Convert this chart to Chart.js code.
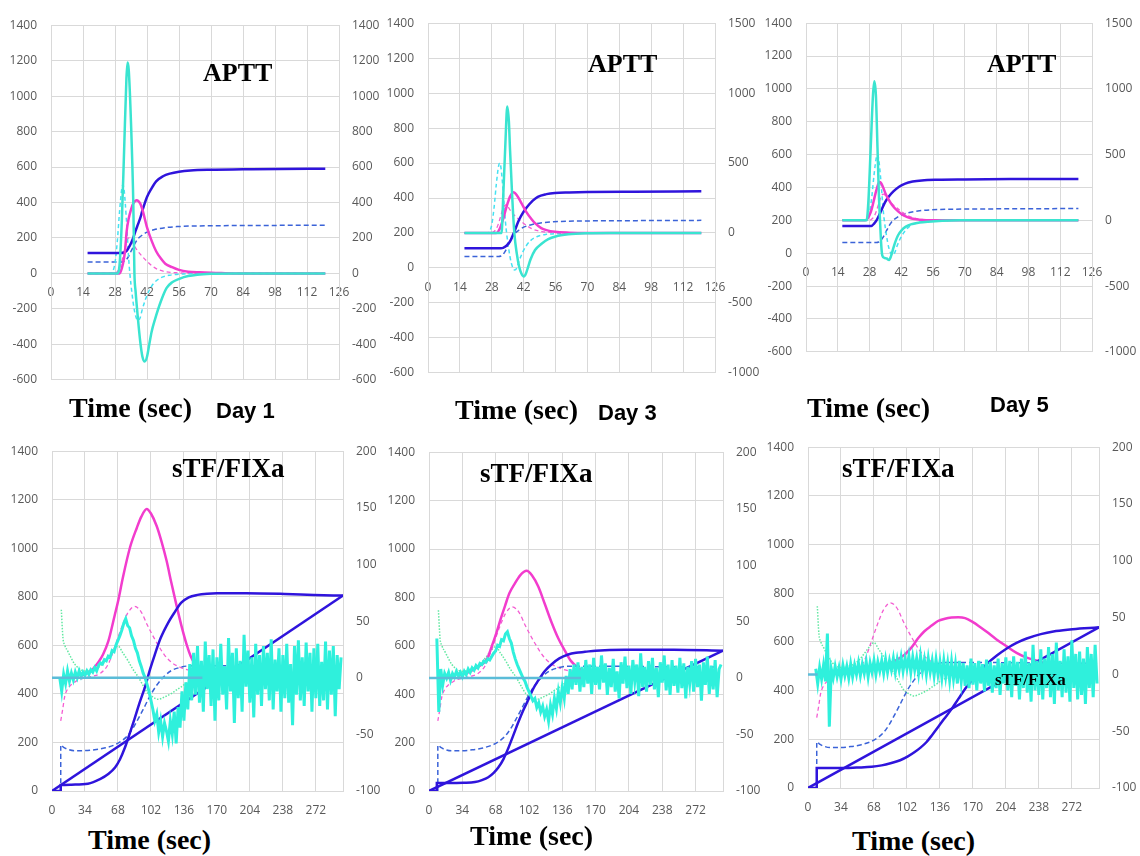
<!DOCTYPE html>
<html lang="en">
<head>
<meta charset="UTF-8">
<title>APTT and sTF/FIXa waveforms</title>
<script src="https://cdn.jsdelivr.net/npm/chart.js@4.4.0/dist/chart.umd.min.js"></script>
<style>
  body { margin: 0; background: #fff; width: 1140px; height: 856px; position: relative; overflow: hidden; }
  canvas { position: absolute; }
  .lbl { position: absolute; font-family: 'Liberation Serif', serif; font-weight: bold; color: #000; line-height: 1; white-space: nowrap; }
  .title { font-size: 26px; }
  .stf { font-size: 27px; }
  .time { font-size: 28px; }
  .day { font-family: 'Liberation Sans', sans-serif; font-size: 22px; }
</style>
</head>
<body>
<canvas id="c1" width="383" height="397" style="left:1px;top:4px"></canvas>
<canvas id="c2" width="382" height="392" style="left:378px;top:2px"></canvas>
<canvas id="c3" width="383" height="371" style="left:756px;top:2px"></canvas>
<canvas id="c4" width="386" height="391" style="left:2px;top:430px"></canvas>
<canvas id="c5" width="389" height="390" style="left:379px;top:431px"></canvas>
<canvas id="c6" width="381" height="392" style="left:758px;top:426px"></canvas>

<div class="lbl title" style="left:203px;top:60px">APTT</div>
<div class="lbl title" style="left:588px;top:51px">APTT</div>
<div class="lbl title" style="left:987px;top:51px">APTT</div>
<div class="lbl stf" style="left:172px;top:455px">sTF/FIXa</div>
<div class="lbl stf" style="left:480px;top:460px">sTF/FIXa</div>
<div class="lbl stf" style="left:842px;top:455px">sTF/FIXa</div>
<div class="lbl" style="left:995px;top:671px;font-size:17px">sTF/FIXa</div>
<div class="lbl time" style="left:69px;top:394px">Time (sec)</div>
<div class="lbl time" style="left:455px;top:396px">Time (sec)</div>
<div class="lbl time" style="left:807px;top:394px">Time (sec)</div>
<div class="lbl time" style="left:88px;top:826px">Time (sec)</div>
<div class="lbl time" style="left:470px;top:822px">Time (sec)</div>
<div class="lbl time" style="left:852px;top:827px">Time (sec)</div>
<div class="lbl day" style="left:216px;top:400px">Day 1</div>
<div class="lbl day" style="left:598px;top:402px">Day 3</div>
<div class="lbl day" style="left:990px;top:394px">Day 5</div>

<script>
// ---- APTT (top row), reference curves drawn dashed in every panel ----
var aRefCyanX = [16, 26, 27, 28, 29, 30, 31, 31.5, 32, 33, 34, 34.5, 35.5, 36.5, 38, 39, 40, 41.5, 43, 45, 48, 52, 58, 65, 120];
var aRefCyanY = [0, 0, 10, 60, 180, 350, 480, 500, 470, 300, 80, 0, -120, -210, -265, -250, -200, -140, -95, -55, -25, -10, -3, 0, 0];
var aRefMagX = [16, 28, 29, 30, 31, 32, 33, 34, 35, 36, 38, 40, 42, 44, 46, 50, 56, 64, 120];
var aRefMagY = [0, 0, 10, 30, 70, 125, 175, 200, 190, 165, 125, 95, 68, 45, 27, 10, 3, 0, 0];
var aRefBlueX = [16, 31, 32, 33, 34, 35, 36, 37, 38, 40, 42, 45, 50, 55, 65, 84, 120];
var aRefBlueY = [65, 65, 68, 78, 98, 125, 150, 175, 195, 217, 233, 246, 258, 264, 268, 270, 272];

// Day 1
var d1CyanX = [16, 29, 30, 31, 32, 33, 33.5, 34, 35, 36, 36.5, 37, 38, 39, 40, 41, 42, 43, 44, 45.5, 48, 50.6, 53, 56.4, 60, 64, 70, 80, 120];
var d1CyanY = [0, 0, 50, 300, 700, 1100, 1190, 1150, 850, 400, 0, -100, -250, -380, -470, -497, -470, -400, -330, -259, -160, -82, -50, -29, -15, -7, -2, 0, 0];
var d1MagX = [16, 30, 31, 32, 32.4, 33.1, 34, 35, 36, 37.5, 39, 40, 42, 44, 46, 48, 50, 53, 56, 60, 65, 72, 80, 120];
var d1MagY = [0, 0, 30, 90, 130, 237, 310, 360, 395, 413, 395, 360, 260, 185, 125, 85, 55, 35, 20, 10, 6, 3, 0, 0];
var d1BlueX = [16, 30, 32, 33, 34, 35, 36, 37, 38, 39, 40, 42, 44, 46, 49, 52, 56, 61, 70, 84, 100, 120];
var d1BlueY = [115, 115, 118, 125, 145, 170, 201, 240, 275, 310, 355, 431, 480, 519, 548, 563, 574, 581, 585, 587, 589, 590];

// Day 3
var d3CyanX = [16, 32.3, 33, 34, 34.8, 35.5, 36, 37, 37.9, 39, 40, 41, 42.1, 43, 44, 45, 47, 50, 52.8, 56, 61.6, 70, 80, 120];
var d3CyanY = [0, 0, 250, 650, 904, 800, 600, 250, 0, -150, -240, -290, -312, -290, -240, -190, -122, -75, -44, -25, -10, -2, 0, 0];
var d3MagX = [16, 30, 31, 32, 33, 34, 35, 36, 37.5, 39, 41, 43, 45.3, 47, 49.7, 52, 55.7, 62, 70, 120];
var d3MagY = [0, 0, 15, 50, 100, 160, 215, 260, 292, 270, 214, 155, 102, 70, 35, 20, 8, 2, 0, 0];
var d3BlueX = [16, 32, 33, 34, 35, 36.2, 37, 38, 39.6, 41, 43.3, 46, 48.2, 52, 55.7, 62, 70, 90, 120];
var d3BlueY = [113, 113, 115, 122, 135, 156, 180, 210, 264, 300, 345, 385, 407, 422, 429, 432, 434, 436, 438];

// Day 5
var d5CyanX = [16, 26.7, 27.5, 28.5, 29.5, 30.1, 30.8, 31.5, 32.1, 32.6, 33.2, 33.6, 34.5, 35.5, 36.6, 37.5, 38.5, 39.2, 40.5, 42.1, 44, 46.5, 50, 53.8, 60, 68, 120];
var d5CyanY = [0, 0, 150, 550, 950, 1058, 950, 550, 200, 0, -200, -266, -285, -290, -302, -270, -210, -171, -115, -76, -48, -29, -17, -10, -3, 0, 0];
var d5MagX = [16, 26, 27, 28, 29, 30, 31, 32.3, 33, 34, 35, 36.3, 38, 40.7, 43, 46.5, 50, 56, 120];
var d5MagY = [0, 0, 10, 40, 90, 160, 230, 291, 285, 250, 205, 161, 115, 66, 38, 14, 5, 0, 0];
var d5BlueX = [16, 28, 29, 30, 31, 32, 33, 34.8, 36.5, 38.5, 41, 43.7, 47, 51, 58, 70, 90, 120];
var d5BlueY = [165, 165, 167, 180, 198, 225, 255, 310, 345, 376, 405, 424, 436, 443, 447, 449, 451, 452];

// ---- sTF/FIXa (bottom row), reference curves ----
var sRefBlueX = [9, 9, 12, 16, 23, 30, 44, 55, 64.6, 72, 78.4, 84, 88.7, 94, 99, 104, 109.3, 116, 123, 131, 140.2, 160, 200, 250, 298];
var sRefBlueY = [0, 190, 180, 172, 166, 166, 170, 178, 190, 207, 230, 262, 296, 336, 376, 412, 443, 474, 496, 508, 515, 516, 515, 513, 512];
var sRefMagX = [9, 11, 13, 16, 20, 25, 30, 40, 50, 58, 65, 72, 78, 85, 92, 98, 104, 110, 116, 124, 133, 140, 147];
var sRefMagY = [-38, -28, -17, -10, -6, -3, -1, 1, 4, 12, 28, 45, 57, 63, 58, 47, 37, 28, 20, 13, 9, 7, 6];
var sRefGreenX = [9.6, 11.3, 13, 16.5, 20, 23.4, 28, 33.7, 40, 47.4, 53, 57.7, 63, 68, 73, 78.4, 83, 88.7, 94, 99, 104, 109.3, 116, 123, 128, 133.3, 138, 143.6];
var sRefGreenY = [60, 35, 29, 23, 17, 12, 8, 6, 7, 9, 13, 18, 24, 28, 22, 15, 8, 1, -7, -14, -17, -19, -17, -14, -11, -8, -5, -3];

var noiseX = [8, 10, 12, 14, 16, 18, 20, 22, 24, 26, 28, 30, 32, 34, 36, 38, 40, 42, 44, 46,
  48, 50, 52, 54, 56, 58, 60, 62, 64, 66, 68, 70, 72, 74, 76, 78, 80, 82, 84, 86,
  88, 90, 92, 94, 96, 98, 100, 102, 104, 106, 108, 110, 112, 114, 116, 118, 120, 122, 124, 126,
  128, 130, 132, 134, 136, 138, 140, 142, 144, 146, 148, 150, 152, 154, 156, 158, 160, 162, 164, 166,
  168, 170, 172, 174, 176, 178, 180, 182, 184, 186, 188, 190, 192, 194, 196, 198, 200, 202, 204, 206,
  208, 210, 212, 214, 216, 218, 220, 222, 224, 226, 228, 230, 232, 234, 236, 238, 240, 242, 244, 246,
  248, 250, 252, 254, 256, 258, 260, 262, 264, 266, 268, 270, 272, 274, 276, 278, 280, 282, 284, 286,
  288, 290, 292, 294, 296, 298];
var zeroY = [0, 0];

// Day 1
var s1Noise = [0, -12, 3, -5, 6, -3, 4, -2, 5, 0,
  6, 1, 5, 2, 6, 3, 7, 5, 9, 6,
  11, 13, 12, 16, 15, 19, 18, 24, 23, 29,
  33, 37, 42, 48, 52, 46, 44, 37, 33, 26,
  22, 15, 10, 4, 0, -6, -12, -20, -28, -38,
  -32, -48, -38, -52, -40, -47, -56, -38, -50, -30,
  -58, -26, -44, -12, -38, -4, -28, 12, -20, 22,
  -15, 28, -22, 15, -30, 32, -10, 20, -25, 25,
  -38, 18, -20, 30, -15, 10, -28, 35, -12, 22,
  -40, 26, -18, 15, -30, 38, -8, 24, -22, 18,
  -35, 30, -15, 20, -25, 28, -10, 22, -20, 34,
  -28, 16, -12, 26, -30, 20, -18, 30, -22, 12,
  -42, 28, -15, 33, -20, 18, -25, 31, -12, 22,
  -30, 26, -18, 30, -25, 14, -20, 32, -28, 24,
  -15, 28, -34, 20, -10, 18];
var s1ZeroX = [0, 155];
var s1BlueX = [0, 9, 9, 20, 37, 50, 58, 65, 70, 75, 80, 85, 90, 96, 101, 106, 112, 120, 127, 133, 141, 150, 160, 170, 200, 240, 270, 300];
var s1BlueY = [0, 0, 25, 26, 30, 50, 70, 97, 130, 177, 235, 296, 360, 430, 500, 562, 630, 695, 740, 775, 798, 808, 813, 815, 815, 812, 808, 805];
var s1DiagX = [0, 300];
var s1DiagY = [0, 805];
var s1MagX = [30, 40, 48, 52.6, 58, 64.6, 68, 73.2, 80.4, 87.3, 92, 97.6, 102, 107.9, 113, 118.2, 123, 128.6, 134, 138.9, 143, 147.4, 152];
var s1MagY = [2, 6, 14, 20.5, 32, 55, 67, 89, 115, 132, 142, 149, 145, 134, 120, 103, 84, 63, 44, 29, 19, 12, 8];

// Day 3
var s2Noise = [35, -30, 8, -6, 4, 0, 5, -2, 4, 1,
  6, 2, 5, 1, 6, 3, 8, 5, 9, 7,
  11, 9, 13, 12, 15, 14, 17, 16, 19, 22,
  24, 29, 28, 34, 33, 39, 41, 35, 31, 23,
  17, 12, 8, 4, 0, -3, -8, -12, -16, -20,
  -18, -26, -22, -30, -25, -34, -28, -38, -24, -32,
  -18, -27, -12, -22, -8, -18, 2, -14, 8, -10,
  12, -6, 14, -12, 10, -8, 16, -5, 12, -14,
  18, -6, 10, -10, 20, -4, 13, -15, 9, -8,
  17, -12, 6, -18, 14, -5, 19, -9, 11, -14,
  16, -3, 12, -16, 22, -8, 10, -12, 15, -6,
  18, -10, 9, -17, 14, -4, 20, -11, 12, -15,
  16, -7, 11, -13, 18, -9, 13, -18, 10, -5,
  15, -12, 17, -8, 12, -20, 14, -6, 19, -14,
  11, -10, 16, -17, 8, 12];
var s2ZeroX = [0, 155];
var s2BlueX = [0, 8, 8, 20, 35, 46.9, 54, 60.5, 66, 70.7, 76, 80.9, 86, 91.1, 96, 101.3, 106, 111.5, 118, 125.2, 133, 142.1, 150, 159.2, 170, 200, 250, 300];
var s2BlueY = [0, 0, 33, 33, 34, 37, 45, 57, 75, 97, 132, 177, 230, 284, 332, 377, 420, 457, 495, 524, 548, 564, 571, 575, 580, 584, 584, 580];
var s2DiagX = [0, 300];
var s2DiagY = [0, 580];
var s2MagX = [30, 40, 50, 58.9, 64, 69.1, 73, 77.6, 82, 87.8, 93, 99.7, 105, 111.5, 118, 125.2, 132, 138.8, 145, 152.3, 156];
var s2MagY = [2, 5, 10, 16.5, 28, 41, 52, 64, 75, 84, 91, 95, 91, 81, 66, 49, 35, 24, 15, 9, 7];

// Day 5
var s3Noise = [5, -8, 6, -4, 8, -6, 36, -46, 5, -3,
  7, -2, 6, -4, 8, -1, 7, -3, 9, -2,
  8, 0, 10, -1, 9, 1, 11, -2, 10, 2,
  12, 0, 11, 3, 12, 1, 13, 2, 12, 4,
  14, 2, 13, 4, 15, 3, 14, 5, 16, 2,
  15, 4, 14, 1, 16, 3, 13, 0, 14, 2,
  12, -1, 13, 0, 11, -3, 12, -2, 10, -5,
  11, -4, 9, -8, 12, -6, 10, -10, 8, -12,
  14, -9, 10, -14, 12, -8, 9, -15, 13, -10,
  11, -16, 8, -12, 14, -18, 10, -8, 15, -14,
  12, -20, 16, -10, 11, -22, 14, -12, 20, -16,
  10, -24, 26, -14, 12, -18, 22, -22, 14, -12,
  24, -20, 18, -26, 28, -14, 12, -20, 22, -16,
  16, -24, 30, -12, 18, -22, 20, -18, 14, -26,
  24, -12, 18, -20, 26, -8];
var s3ZeroX = [0, 10];
var s3BlueX = [0, 9, 9, 20, 38, 50, 65.7, 76, 86, 95, 103, 110, 116, 122, 128, 134, 140, 148, 155, 163.6, 174, 184.2, 195, 204.9, 215, 225.5, 240, 253, 270, 285, 300];
var s3BlueY = [0, 0, 82, 82, 82, 84, 87, 93, 103, 114, 130, 148, 166, 188, 218, 250, 282, 324, 366, 416, 466, 509, 545, 573, 596, 614, 632, 643, 651, 656, 660];
var s3DiagX = [0, 300];
var s3DiagY = [0, 660];
var s3MagX = [30, 45, 60, 70, 82.8, 92, 100, 107, 113.7, 120, 127.5, 134, 141.2, 148, 155, 162, 170, 177, 184.2, 194, 204.8, 215, 225.5, 234, 242.6, 254.6];
var s3MagY = [2, 3, 5, 6, 9, 13, 17.6, 24, 32, 38, 43, 47, 49, 50, 50.3, 49.5, 46, 42, 37.5, 31, 24.7, 19, 14.8, 12.5, 10.6, 8.5];

// ---- styling ----
var GRID = '#d9d9d9';
var BLUE = '#2f14dc';
var BLUE_DASH = '#3b63d8';
var MAGENTA = '#f23ccd';
var MAG_DASH = '#f45ed2';
var CYAN = '#3ae4d0';
var CYAN_DASH = '#44e2f2';
var NOISE = '#2ff0dc';
var ZERO = '#5bbcd8';
var GREEN = '#62e8a2';

Chart.defaults.font.family = "'Open Sans', sans-serif";
Chart.defaults.font.size = 12;
Chart.defaults.color = '#595959';

function pts(xs, ys) {
    return xs.map(function (x, i) { return { x: x, y: ys[i] }; });
}

function ds(xs, ys, color, width, axis, dash, smooth) {
    return {
        data: pts(xs, ys),
        borderColor: color,
        borderWidth: width,
        borderDash: dash || [],
        yAxisID: axis,
        pointRadius: 0,
        fill: false,
        tension: 0,
        cubicInterpolationMode: smooth ? 'monotone' : 'default'
    };
}

function yScale(pos, min, max, step, w, onArea) {
    return {
        type: 'linear',
        position: pos,
        min: min,
        max: max,
        ticks: { stepSize: step, padding: pos === 'left' ? 14 : 13, format: { useGrouping: false } },
        grid: { drawOnChartArea: onArea, drawTicks: false, color: GRID },
        border: { display: true, color: GRID },
        afterFit: function (s) { s.width = w; }
    };
}

function topX() {
    return {
        type: 'linear',
        position: { y: 0 },
        min: 0,
        max: 126,
        ticks: { stepSize: 14, padding: 12, format: { useGrouping: false } },
        grid: { drawTicks: false, color: GRID },
        border: { color: GRID }
    };
}

function bottomX() {
    return {
        type: 'linear',
        position: 'bottom',
        min: 0,
        max: 300,
        ticks: { stepSize: 34, padding: 12, includeBounds: false, format: { useGrouping: false } },
        grid: { drawTicks: false, color: GRID },
        border: { color: GRID },
        afterFit: function (s) { s.height = 30; }
    };
}

function makeChart(id, datasets, scales, pad) {
    new Chart(document.getElementById(id), {
        type: 'line',
        data: { datasets: datasets },
        options: {
            responsive: false,
            animation: false,
            events: [],
            layout: { padding: pad },
            plugins: { legend: { display: false }, tooltip: { enabled: false } },
            scales: scales
        }
    });
}

function apttSets(cx, cy, mx, my, bx, by) {
    return [
        ds(cx, cy, CYAN, 2.5, 'y1', null, true),
        ds(mx, my, MAGENTA, 2.5, 'y1', null, true),
        ds(bx, by, BLUE, 2.5, 'y', null, true),
        ds(aRefCyanX, aRefCyanY, CYAN_DASH, 1.5, 'y1', [4, 3], true),
        ds(aRefMagX, aRefMagY, MAG_DASH, 1.3, 'y1', [4, 3], true),
        ds(aRefBlueX, aRefBlueY, BLUE_DASH, 1.5, 'y', [5, 3], true)
    ];
}

function stfSets(nz, zx, bx, by, dx, dy, mx, my) {
    return [
        ds(zx, zeroY, ZERO, 2.5, 'y1'),
        ds(noiseX, nz, NOISE, 3, 'y1'),
        ds(bx, by, BLUE, 2.5, 'y', null, true),
        ds(dx, dy, BLUE, 2.5, 'y'),
        ds(sRefBlueX, sRefBlueY, BLUE_DASH, 1.5, 'y', [5, 3], true),
        ds(mx, my, MAGENTA, 2.5, 'y1', null, true),
        ds(sRefMagX, sRefMagY, MAG_DASH, 1.3, 'y1', [4, 3], true),
        ds(sRefGreenX, sRefGreenY, GREEN, 1.5, 'y1', [1.5, 1.5], true)
    ];
}

var topPad = { top: 10, bottom: 10, left: 0, right: 0 };
var botPad = { top: 10, bottom: 0, left: 0, right: 0 };

makeChart('c1', apttSets(d1CyanX, d1CyanY, d1MagX, d1MagY, d1BlueX, d1BlueY), {
    x: topX(),
    y: yScale('left', -600, 1400, 200, 50, true),
    y1: yScale('right', -600, 1400, 200, 45, false)
}, topPad);

makeChart('c2', apttSets(d3CyanX, d3CyanY, d3MagX, d3MagY, d3BlueX, d3BlueY), {
    x: topX(),
    y: yScale('left', -600, 1400, 200, 50, true),
    y1: yScale('right', -1000, 1500, 500, 45, false)
}, topPad);

makeChart('c3', apttSets(d5CyanX, d5CyanY, d5MagX, d5MagY, d5BlueX, d5BlueY), {
    x: topX(),
    y: yScale('left', -600, 1400, 200, 50, true),
    y1: yScale('right', -1000, 1500, 500, 47, false)
}, topPad);

makeChart('c4', stfSets(s1Noise, s1ZeroX, s1BlueX, s1BlueY, s1DiagX, s1DiagY, s1MagX, s1MagY), {
    x: bottomX(),
    y: yScale('left', 0, 1400, 200, 50, true),
    y1: yScale('right', -100, 200, 50, 45, false)
}, botPad);

makeChart('c5', stfSets(s2Noise, s2ZeroX, s2BlueX, s2BlueY, s2DiagX, s2DiagY, s2MagX, s2MagY), {
    x: bottomX(),
    y: yScale('left', 0, 1400, 200, 50, true),
    y1: yScale('right', -100, 200, 50, 45, false)
}, botPad);

makeChart('c6', stfSets(s3Noise, s3ZeroX, s3BlueX, s3BlueY, s3DiagX, s3DiagY, s3MagX, s3MagY), {
    x: bottomX(),
    y: yScale('left', 0, 1400, 200, 50, true),
    y1: yScale('right', -100, 200, 50, 40, false)
}, botPad);
</script>
</body>
</html>
